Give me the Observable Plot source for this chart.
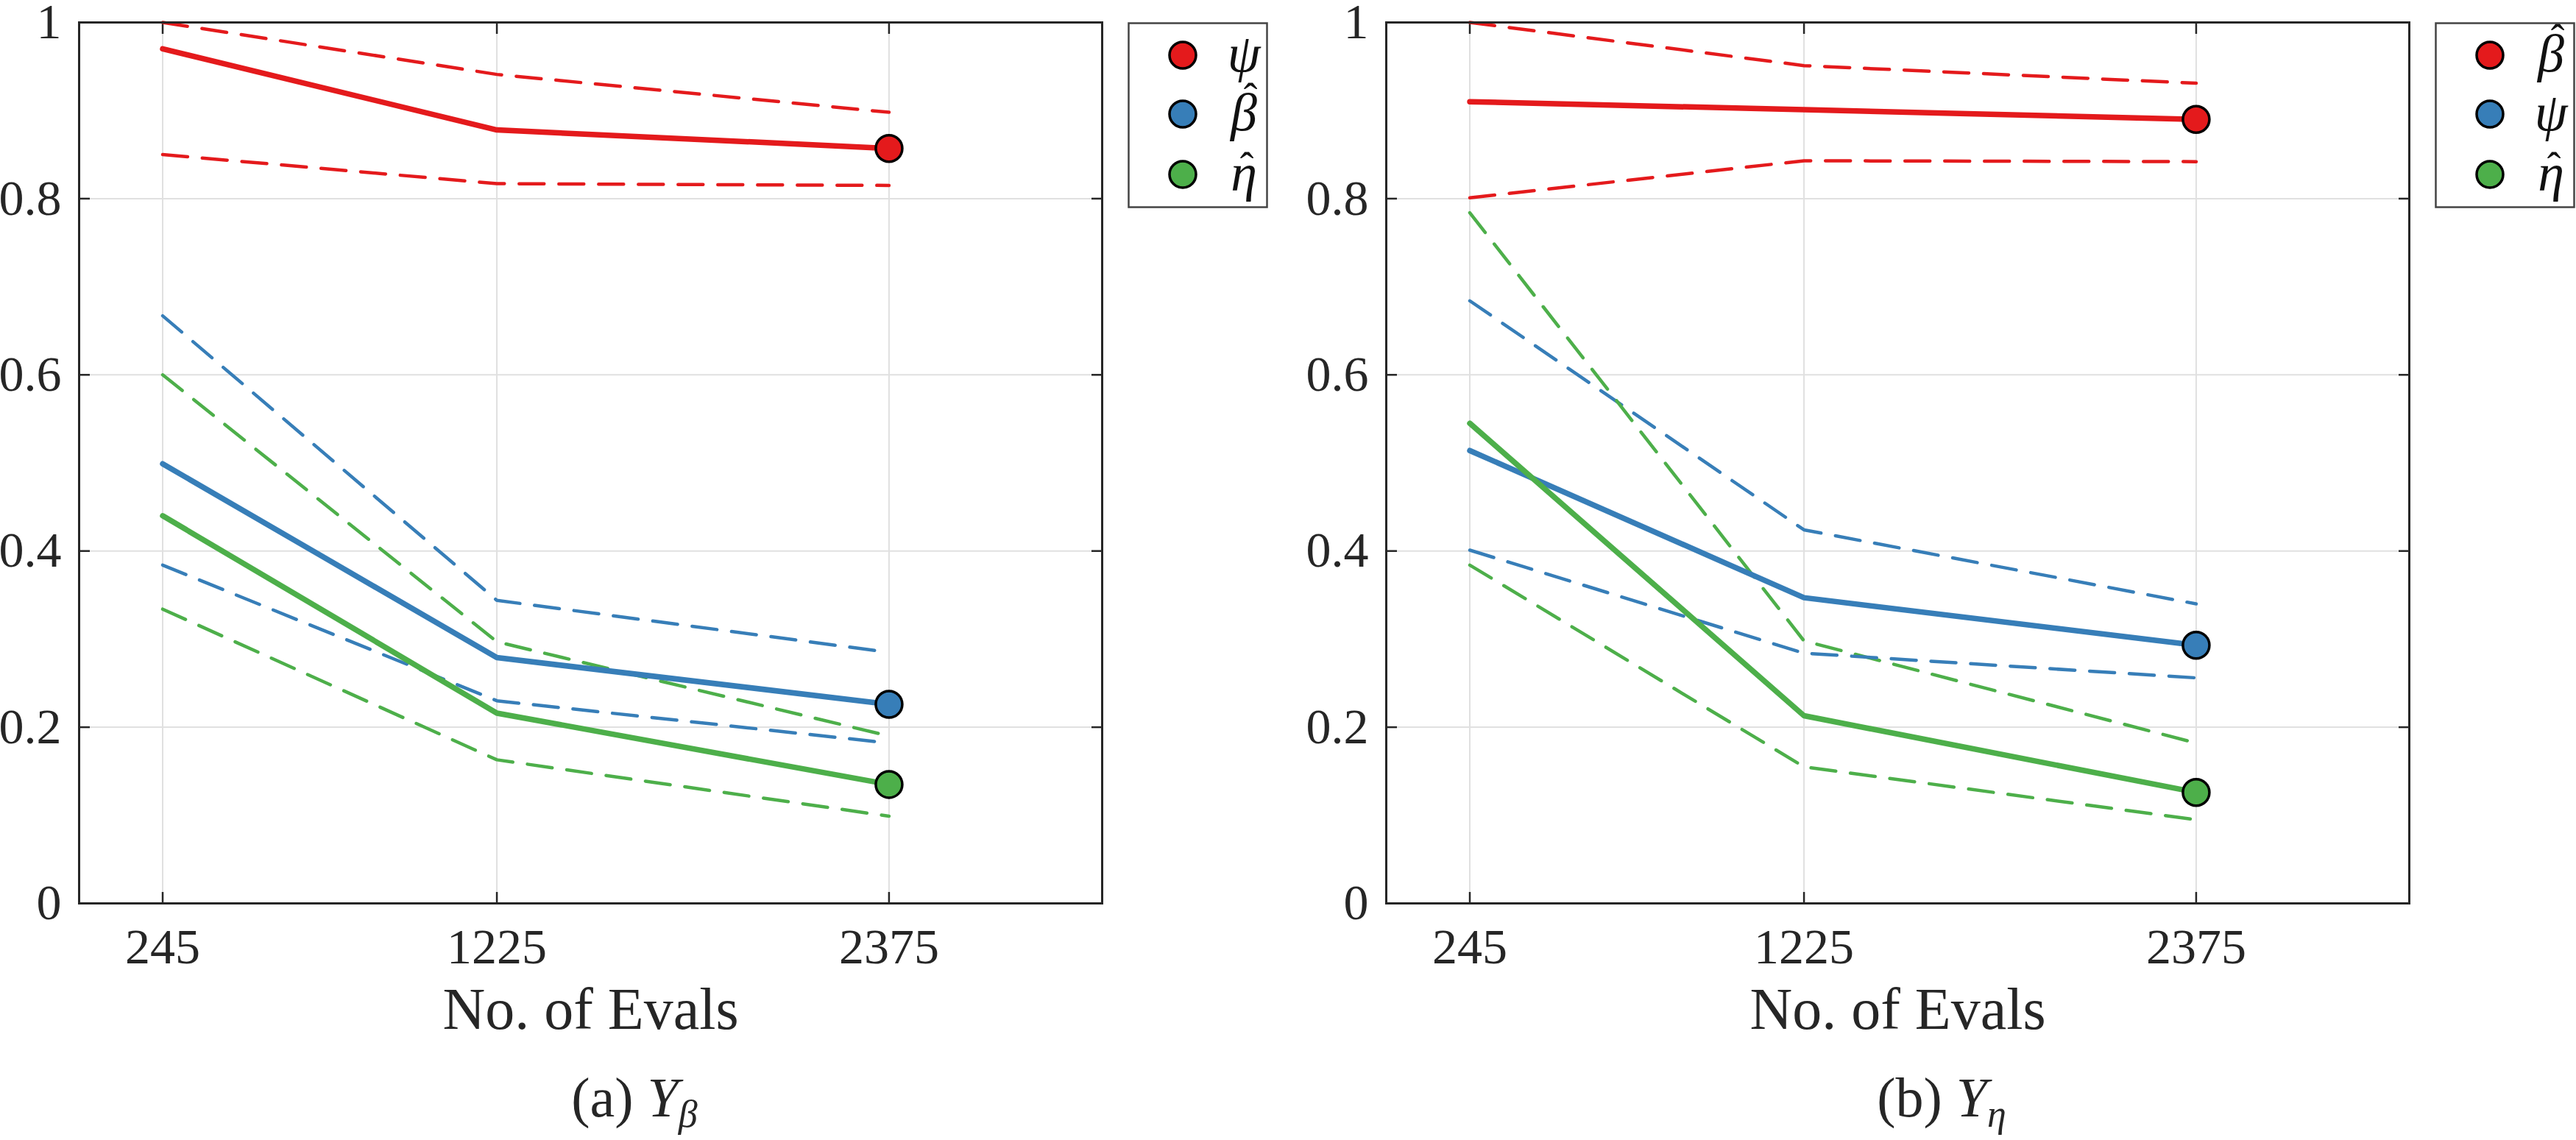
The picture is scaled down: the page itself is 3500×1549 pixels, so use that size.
<!DOCTYPE html>
<html>
<head>
<meta charset="utf-8">
<script src="https://cdn.jsdelivr.net/npm/d3@7"></script>
<script src="https://cdn.jsdelivr.net/npm/@observablehq/plot@0.6"></script>
<style>
  html, body { margin: 0; padding: 0; background: #fff; }
  #root { position: relative; width: 3500px; height: 1549px; overflow: hidden; font-family: "Liberation Serif", "DejaVu Serif", serif; color: #262626; }
  .panel { position: absolute; top: 0; width: 1750px; height: 1549px; }
  .panel svg.plot { position: absolute; left: 0; top: 0; }
  .legend { position: absolute; left: 1532px; top: 30px; overflow: visible; }
  .caption { position: absolute; left: 0; top: 1452px; width: 1724px; height: 78px; line-height: 78px; text-align: center; font-size: 76px; }
  .caption i { font-style: italic; }
  .caption sub { font-size: 52px; font-style: italic; vertical-align: -14px; line-height: 0; }
</style>
</head>
<body>
<div id="root"></div>
<script>
// ---- data ----
const evals = [245, 1225, 2375];
const xTicks = [245, 1225, 2375];
const yTicks = [0, 0.2, 0.4, 0.6, 0.8, 1];
const colors = ["#e41a1c", "#377eb8", "#4daf4a"];

// Panel (a) Y_beta   (legend: letter + whether it carries a hat)
const namesA = ["ψ", "β̂", "η̂"];
const lettersA = ["ψ", "β", "η"];
const hatsA = [false, true, true];
const aPsiMean  = [0.970, 0.878, 0.857];
const aPsiUp    = [1.000, 0.941, 0.898];
const aPsiLo    = [0.850, 0.817, 0.815];
const aBetaMean = [0.499, 0.279, 0.226];
const aBetaUp   = [0.667, 0.344, 0.285];
const aBetaLo   = [0.384, 0.230, 0.182];
const aEtaMean  = [0.440, 0.216, 0.135];
const aEtaUp    = [0.600, 0.297, 0.190];
const aEtaLo    = [0.334, 0.163, 0.099];

// Panel (b) Y_eta
const namesB = ["β̂", "ψ", "η̂"];
const lettersB = ["β", "ψ", "η"];
const hatsB = [true, false, true];
const bBetaMean = [0.910, 0.901, 0.890];
const bBetaUp   = [1.000, 0.951, 0.931];
const bBetaLo   = [0.801, 0.843, 0.842];
const bPsiMean  = [0.514, 0.347, 0.293];
const bPsiUp    = [0.684, 0.424, 0.340];
const bPsiLo    = [0.401, 0.284, 0.256];
const bEtaMean  = [0.545, 0.213, 0.126];
const bEtaUp    = [0.784, 0.298, 0.182];
const bEtaLo    = [0.384, 0.155, 0.095];

const panelA = {
  names: namesA, letters: lettersA, hats: hatsA,
  mean: [aPsiMean, aBetaMean, aEtaMean],
  up:   [aPsiUp, aBetaUp, aEtaUp],
  lo:   [aPsiLo, aBetaLo, aEtaLo],
  caption: "(a) <i>Y</i><sub>β</sub>"
};
const panelB = {
  names: namesB, letters: lettersB, hats: hatsB,
  mean: [bBetaMean, bPsiMean, bEtaMean],
  up:   [bBetaUp, bPsiUp, bEtaUp],
  lo:   [bBetaLo, bPsiLo, bEtaLo],
  caption: "(b) <i>Y</i><sub>η</sub>"
};

function rows(names, arrs) {
  const out = [];
  names.forEach((n, i) => evals.forEach((x, j) => out.push({series: n, x, y: arrs[i][j]})));
  return out;
}

const FONT = "Liberation Serif, DejaVu Serif, serif";
const INK = "#262626";
const noText = () => "";

function makePanel(p, left) {
  const div = document.createElement("div");
  div.className = "panel";
  div.style.left = left + "px";

  const meanRows = rows(p.names, p.mean);
  const upRows = rows(p.names, p.up);
  const loRows = rows(p.names, p.lo);
  const lastRows = meanRows.filter(d => d.x === evals[evals.length - 1]);
  const fmt = d => (d === 0 ? "0" : d === 1 ? "1" : d.toFixed(1));

  const chart = Plot.plot({
    width: 1500,
    height: 1440,
    marginLeft: 107,
    marginRight: 3,
    marginTop: 30,
    marginBottom: 213,
    style: {fontFamily: FONT, fontSize: "68px", color: INK, background: "transparent", overflow: "visible"},
    x: {domain: [0, 3000], label: null},
    y: {domain: [0, 1], label: null},
    color: {domain: p.names, range: colors},
    marks: [
      Plot.gridY(yTicks, {stroke: "#e0e0e0", strokeOpacity: 1, strokeWidth: 2}),
      Plot.gridX(xTicks, {stroke: "#e0e0e0", strokeOpacity: 1, strokeWidth: 2}),
      Plot.axisY(yTicks, {tickSize: 0, tickPadding: 24, tickFormat: fmt, label: null, fontSize: 68}),
      Plot.axisY(yTicks, {anchor: "left", tickSize: 15, dx: 15, tickFormat: noText, label: null, stroke: INK, strokeWidth: 2.5}),
      Plot.axisY(yTicks, {anchor: "right", tickSize: 15, dx: -15, tickFormat: noText, label: null, stroke: INK, strokeWidth: 2.5}),
      Plot.axisX(xTicks, {tickSize: 0, tickPadding: 33, tickFormat: d => String(d), label: null, fontSize: 68}),
      Plot.axisX(xTicks, {anchor: "bottom", tickSize: 15, dy: -15, tickFormat: noText, label: null, stroke: INK, strokeWidth: 2.5}),
      Plot.axisX(xTicks, {anchor: "top", tickSize: 15, dy: 15, tickFormat: noText, label: null, stroke: INK, strokeWidth: 2.5}),
      Plot.line(upRows, {x: "x", y: "y", z: "series", stroke: "series", strokeWidth: 4.5, strokeDasharray: "34,20"}),
      Plot.line(loRows, {x: "x", y: "y", z: "series", stroke: "series", strokeWidth: 4.5, strokeDasharray: "34,20"}),
      Plot.line(meanRows, {x: "x", y: "y", z: "series", stroke: "series", strokeWidth: 7.5}),
      Plot.dot(lastRows, {x: "x", y: "y", fill: "series", stroke: "black", strokeWidth: 3.5, r: 18}),
      Plot.frame({stroke: INK, strokeWidth: 3}),
      Plot.text(["No. of Evals"], {frameAnchor: "bottom", dy: 170, fontSize: 80, fill: INK})
    ]
  });
  chart.classList.add("plot");
  div.appendChild(chart);

  // legend
  const lg = d3.create("svg").attr("class", "legend").attr("width", 192).attr("height", 254);
  lg.append("rect").attr("x", 1.5).attr("y", 1.5).attr("width", 188).attr("height", 250)
    .attr("fill", "white").attr("stroke", "#444").attr("stroke-width", 2.5);
  const rowY = [45, 125, 207];
  p.letters.forEach((n, i) => {
    lg.append("circle").attr("cx", 75).attr("cy", rowY[i]).attr("r", 18)
      .attr("fill", colors[i]).attr("stroke", "black").attr("stroke-width", 3.5);
    const g = lg.append("text").attr("font-family", FONT).attr("font-style", "italic")
      .attr("fill", "#111").attr("text-anchor", "middle");
    g.append("tspan").attr("x", 158).attr("y", rowY[i]).attr("dy", "0.3em")
      .attr("font-size", 72).text(n);
    if (p.hats[i]) {
      const off = n === "β" ? 45 : 33;
      g.append("tspan").attr("x", n === "β" ? 167 : 162).attr("y", rowY[i] - off).attr("dy", "0.75em")
        .attr("font-size", 56).attr("font-style", "normal").text("ˆ");
    }
  });
  div.appendChild(lg.node());

  const cap = document.createElement("div");
  cap.className = "caption";
  cap.innerHTML = p.caption;
  div.appendChild(cap);
  return div;
}

const root = document.getElementById("root");
root.appendChild(makePanel(panelA, 0));
root.appendChild(makePanel(panelB, 1776));
</script>
</body>
</html>
